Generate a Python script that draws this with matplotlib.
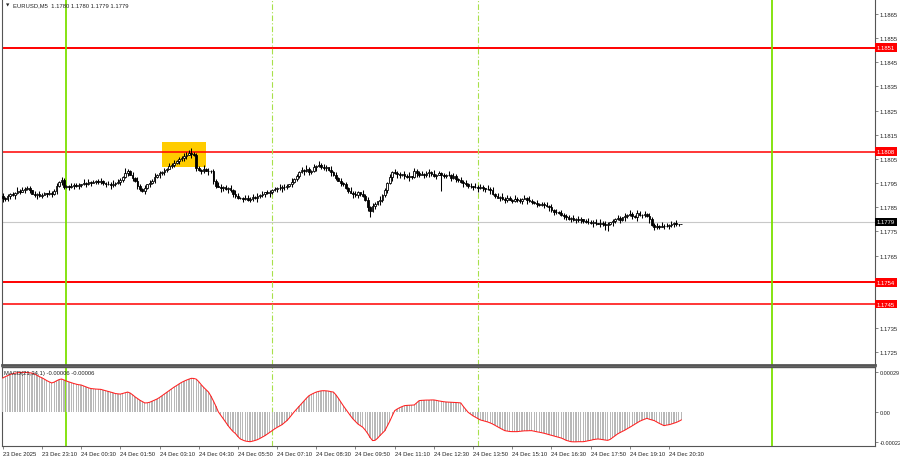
import matplotlib
matplotlib.use('Agg')
import matplotlib.pyplot as plt
import matplotlib.transforms as mtransforms
from matplotlib.patches import Rectangle
import pandas as pd

plt.rcParams['font.family'] = ['Liberation Sans', 'DejaVu Sans']

# ---------------- data ----------------
SYMBOL = "EURUSD,M5"
LAST_OHLC = "1.1780 1.1780 1.1779 1.1779"
START_TIME = "2025-12-23 21:50"
BAR_MINUTES = 5
PRICE_BASE = 1.17000
PRICE_UNIT = 0.00001
WICK_UNIT = 0.00003

# closes, in 0.00001 above 1.17000
CLOSES = [
    888, 884, 895, 903, 900, 910, 918, 915, 922, 926,
    930, 920, 906, 900, 904, 898, 902, 908, 905, 910,
    903, 918, 940, 955, 962, 935, 938, 934, 940, 943,
    938, 942, 945, 950, 948, 953, 952, 955, 958, 954,
    957, 950, 945, 948, 942, 946, 950, 955, 962, 975,
    990, 1000, 985, 972, 960, 938, 925, 918, 930, 945,
    952, 960, 975, 985, 990, 995, 1005, 1010, 1020, 1025,
    1032, 1040, 1048, 1055, 1060, 1068, 1075, 1070, 1068, 1012,
    1005, 1000, 1008, 1002, 998, 1000, 960, 940, 935, 928,
    932, 925, 930, 920, 905, 898, 890, 888, 885, 890,
    882, 886, 892, 888, 895, 900, 905, 912, 908, 915,
    920, 925, 930, 928, 935, 932, 938, 945, 955, 965,
    980, 995, 1005, 1000, 1008, 995, 1000, 1015, 1022, 1025,
    1018, 1012, 1015, 1005, 995, 985, 970, 960, 950, 945,
    930, 918, 910, 905, 900, 912, 905, 895, 880, 850,
    835, 855, 862, 875, 882, 900, 920, 950, 975, 995,
    992, 988, 982, 986, 980, 975, 978, 975, 998, 992,
    985, 988, 982, 990, 995, 988, 980, 985, 990, 982,
    978, 985, 982, 972, 978, 968, 962, 955, 950, 945,
    940, 936, 932, 935, 930, 935, 928, 924, 926, 920,
    905, 898, 890, 892, 886, 882, 888, 882, 878, 885,
    880, 875, 886, 888, 880, 876, 872, 868, 862, 860,
    864, 858, 855, 850, 838, 830, 832, 825, 820, 815,
    808, 802, 805, 798, 800, 796, 800, 795, 790, 788,
    785, 790, 784, 782, 786, 780, 776, 779, 788, 795,
    800, 805, 798, 808, 815, 818, 822, 815, 810, 825,
    820, 818, 822, 812, 800, 778, 768, 772, 770, 773,
    771, 774, 776, 782, 784, 781, 780, 779,
]
FIRST_OPEN = 895

# wick lengths per bar (0.00003 units, one digit per bar) and a few long wicks
UP_WICK = ("4232315243" "2314253214" "3241532142" "2315242313" "4213252431"
           "8324153241" "3251423152" "4232549632" "3152413254" "2314253124"
           "3241524132" "2315243152" "3241532415" "2431524231" "3152421534"
           "2431523142" "5231426153" "2413526142" "3152431524" "2315243152"
           "4231524315" "2314253142" "3241523142" "2315243125" "3241524312"
           "2531426315" "3142532415" "23142500")
LO_WICK = ("5324152314" "2413523142" "3152432415" "2431524132" "3241532142"
           "2315243152" "4231524312" "3142531524" "2431524315" "3152432142"
           "2431523415" "3142532142" "2315243152" "3241523142" "2315243125"
           "3241532415" "2531426315" "3142532415" "2315243152" "4231524315"
           "2314253142" "3241523142" "2315243125" "3241524312" "2531426315"
           "3142532415" "2431524231" "31425320")
LONG_UP = {76: 4, 51: 3}
LONG_LO = {0: 5, 150: 8, 179: 21, 247: 8, 266: 4}

# MACD(21,34,1) main values, in 0.000001
MACD = [
    248, 258, 266, 274, 280, 284, 287, 289, 290, 290,
    289, 287, 284, 278, 268, 258, 250, 240, 229, 220,
    212, 218, 228, 237, 241, 234, 226, 220, 214, 208,
    203, 199, 197, 190, 183, 176, 171, 169, 167, 166,
    165, 160, 155, 150, 145, 140, 134, 132, 130, 135,
    140, 145, 138, 125, 110, 97, 85, 75, 65, 66,
    70, 78, 86, 94, 105, 118, 130, 143, 157, 170,
    182, 193, 205, 216, 225, 233, 240, 246, 245, 240,
    222, 200, 180, 162, 145, 115, 80, 42, 0, -25,
    -50, -76, -102, -125, -145, -160, -182, -200, -208, -215,
    -218, -220, -216, -211, -205, -196, -186, -176, -164, -151,
    -138, -126, -115, -105, -95, -80, -65, -45, -22, 0,
    20, 40, 60, 80, 100, 118, 128, 137, 145, 150,
    154, 155, 154, 152, 148, 145, 125, 100, 72, 45,
    20, -5, -30, -53, -72, -90, -102, -114, -135, -160,
    -190, -212, -210, -195, -175, -157, -139, -105, -70, -30,
    8, 20, 30, 38, 45, 47, 48, 49, 50, 66,
    82, 84, 85, 86, 86, 87, 87, 84, 80, 77,
    74, 72, 71, 70, 69, 68, 67, 65, 40, 18,
    -4, -17, -30, -40, -50, -60, -65, -70, -75, -82,
    -90, -100, -110, -120, -130, -139, -142, -145, -146, -146,
    -146, -144, -142, -140, -140, -139, -139, -143, -147, -150,
    -154, -158, -163, -168, -173, -178, -183, -188, -193, -201,
    -210, -215, -220, -221, -221, -220, -220, -220, -217, -213,
    -210, -205, -202, -200, -202, -205, -208, -210, -203, -190,
    -176, -163, -153, -144, -135, -124, -114, -103, -92, -81,
    -70, -62, -55, -48, -55, -60, -65, -75, -85, -94,
    -102, -98, -95, -90, -84, -78, -70, -60,
]
MACD_LABEL = "MACD(21,34,1) -0.00006 -0.00006"

RED_LEVELS = [1.1851, 1.1808, 1.1754, 1.1745]
RED_WIDTHS = [1.4, 1.1, 1.4, 1.1]
CURRENT_PRICE = 1.1779
SOLID_VLINES = ["2025-12-24 00:00", "2025-12-25 00:00"]
DASH_VLINES = ["2025-12-24 07:00", "2025-12-24 14:00"]
BOX_TIMES = ["2025-12-24 03:15", "2025-12-24 04:45"]
BOX_PRICES = [1.18017, 1.18120]

PRICE_TICKS = [1.1725, 1.1735, 1.1765, 1.1775, 1.1785, 1.1795,
               1.1805, 1.1815, 1.1825, 1.1835, 1.1845, 1.1855, 1.1865]
MACD_TICKS = [0.00029, 0.0, -0.00022]
MACD_TICK_LABELS = ["0.00029", "0.00", "-0.00022"]
TIME_LABEL_STEP = 16
PRICE_LIMITS = [1.17198, 1.18711]
MACD_LIMITS = [-0.000248, 0.000333]
X_LIMITS = [-0.3, 356.1]

# ---------------- derived ----------------
n = len(CLOSES)
start = pd.Timestamp(START_TIME)
times = pd.date_range(start, periods=n, freq=f"{BAR_MINUTES}min")
def tidx(ts):
    return (pd.Timestamp(ts) - start) / pd.Timedelta(minutes=BAR_MINUTES)

closes = [PRICE_BASE + c * PRICE_UNIT for c in CLOSES]
opens = [PRICE_BASE + FIRST_OPEN * PRICE_UNIT] + closes[:-1]
highs, lows = [], []
for i in range(n):
    uw = LONG_UP.get(i, int(UP_WICK[i]))
    lw = LONG_LO.get(i, int(LO_WICK[i]))
    highs.append(max(opens[i], closes[i]) + uw * WICK_UNIT)
    lows.append(min(opens[i], closes[i]) - lw * WICK_UNIT)
macd = [m * 1e-6 for m in MACD]

# ---------------- figure ----------------
W, H = 900, 460
fig = plt.figure(figsize=(W / 100, H / 100), dpi=100)
fig.patch.set_facecolor('white')
ax = fig.add_axes([2 / W, 94 / H, 873 / W, 366 / H])
axm = fig.add_axes([2 / W, 13.5 / H, 873 / W, 79 / H])

FRAME = '#555555'
FS = 4.2

for a in (ax, axm):
    a.set_facecolor('white')
    a.set_xlim(*X_LIMITS)
    for s in a.spines.values():
        s.set_color(FRAME)
        s.set_linewidth(0.8)
    a.yaxis.tick_right()
    a.tick_params(axis='y', direction='out', length=2, width=0.5, color=FRAME,
                  labelsize=FS, pad=1.2, labelcolor='#222222')

ax.spines['bottom'].set_linewidth(2.0)
ax.spines['top'].set_visible(False)
axm.spines['top'].set_linewidth(1.0)

ax.set_ylim(*PRICE_LIMITS)
ax.set_yticks(PRICE_TICKS)
ax.set_yticklabels([f"{p:.4f}" for p in PRICE_TICKS])
ax.set_xticks([])

# yellow highlight box
bx0, bx1 = tidx(BOX_TIMES[0]), tidx(BOX_TIMES[1])
ax.add_patch(Rectangle((bx0, BOX_PRICES[0]), bx1 - bx0, BOX_PRICES[1] - BOX_PRICES[0],
                       facecolor='#FFCC00', edgecolor='none', zorder=1))

# level lines
for lvl, lw_ in zip(RED_LEVELS, RED_WIDTHS):
    ax.axhline(lvl, color='#FF0000', lw=lw_, zorder=2)
ax.axhline(CURRENT_PRICE, color='#C8C8C8', lw=0.8, zorder=1.5)

# vertical lines
for a in (ax, axm):
    for t in SOLID_VLINES:
        a.axvline(tidx(t), color='#7CE000', lw=1.3, zorder=2)
    for t in DASH_VLINES:
        a.axvline(tidx(t), color='#A8E04A', lw=0.8, ls=(0, (5, 2, 1, 2)), zorder=2)

# candles
xs = list(range(n))
ax.vlines(xs, lows, highs, color='black', lw=0.75, zorder=3)
bw = 0.7
for i in range(n):
    o, c = opens[i], closes[i]
    lo, hi = min(o, c), max(o, c)
    bull = c >= o
    ax.add_patch(Rectangle((i - bw / 2, lo), bw, max(hi - lo, 1e-6),
                           facecolor='white' if bull else 'black',
                           edgecolor='black', linewidth=0.6, zorder=4))

# header
ax.text(0.004, 0.984, "\u25bc", transform=ax.transAxes, fontsize=3.2, va='center', ha='left',
        family=['DejaVu Sans'], color='#222222')
ax.text(0.013, 0.984, f"{SYMBOL}  {LAST_OHLC}", transform=ax.transAxes, fontsize=FS,
        va='center', ha='left', color='#222222')

# price boxes on the right axis
btr = mtransforms.blended_transform_factory(ax.transAxes, ax.transData)
for lvl in RED_LEVELS:
    ax.text(1.002, lvl, f"{lvl:.4f}", transform=btr, fontsize=FS, color='white',
            va='center', ha='left', clip_on=False, zorder=10,
            bbox=dict(boxstyle='square,pad=0.3', fc='#FF0000', ec='none'))
ax.text(1.002, CURRENT_PRICE, f"{CURRENT_PRICE:.4f}", transform=btr, fontsize=FS,
        color='white', va='center', ha='left', clip_on=False, zorder=10,
        bbox=dict(boxstyle='square,pad=0.3', fc='black', ec='none'))

# MACD
axm.set_ylim(*MACD_LIMITS)
axm.bar(xs, macd, width=0.55, color='#B8B8B8', edgecolor='none', zorder=3)
axm.plot(xs, macd, color='#FF2020', lw=0.75, zorder=4)
axm.set_yticks(MACD_TICKS)
axm.set_yticklabels(MACD_TICK_LABELS)
axm.tick_params(axis='y', labelsize=4.0)
axm.text(0.002, 0.93, MACD_LABEL, transform=axm.transAxes, fontsize=FS, va='center',
         ha='left', color='#222222', zorder=6)

tick_pos = list(range(0, n, TIME_LABEL_STEP))
labels = []
for k in tick_pos:
    t = times[k]
    labels.append(t.strftime("%d %b %Y") if k == 0 else t.strftime("%d %b %H:%M"))
axm.set_xticks(tick_pos)
axm.set_xticklabels(labels)
axm.tick_params(axis='x', direction='out', length=2.5, width=0.5, color=FRAME,
                labelsize=FS, pad=1.2, labelcolor='#222222')
for lbl in axm.get_xticklabels():
    lbl.set_horizontalalignment('left')

fig.savefig('out.png', dpi=100, facecolor='white')
